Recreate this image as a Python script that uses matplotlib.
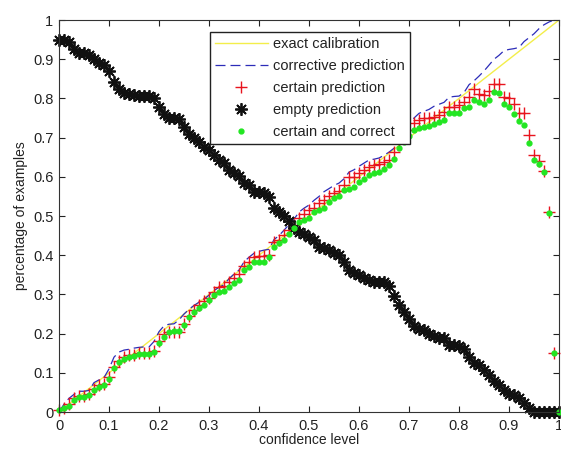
import numpy as np
from matplotlib import pyplot as plt, ticker

# preferred settings for plotting (MATLAB-ish look)
plt.rcParams.update({'font.family': ['Liberation Sans', 'DejaVu Sans'],
                     'font.size': 10,
                     'text.color': '#222222',
                     'axes.labelcolor': '#222222',
                     'xtick.color': '#222222',
                     'ytick.color': '#222222',
                     'axes.edgecolor': '#333333'})

# %% data, one value per confidence step of 0.01
conf_level = [round(0.01 * i, 2) for i in range(101)]

exact_calibration = conf_level

corrective_prediction = [
    0.0, 0.02, 0.035, 0.045, 0.053, 0.053, 0.055, 0.075, 0.082, 0.088,
    0.11, 0.14, 0.153, 0.158, 0.16, 0.163, 0.165, 0.166, 0.166, 0.18,
    0.205, 0.22, 0.224, 0.225, 0.235, 0.25, 0.262, 0.272, 0.28, 0.288,
    0.298, 0.31, 0.318, 0.325, 0.34, 0.352, 0.362, 0.383, 0.395, 0.405,
    0.41, 0.413, 0.415, 0.44, 0.45, 0.464, 0.478, 0.492, 0.51, 0.52,
    0.528, 0.54, 0.55, 0.562, 0.57, 0.578, 0.584, 0.595, 0.612, 0.618,
    0.627, 0.635, 0.643, 0.645, 0.648, 0.655, 0.663, 0.673, 0.70, 0.72,
    0.735, 0.75, 0.762, 0.767, 0.772, 0.78, 0.785, 0.79, 0.803, 0.805,
    0.806, 0.815, 0.835, 0.845, 0.857, 0.87, 0.885, 0.90, 0.91, 0.922,
    0.925, 0.927, 0.93, 0.945, 0.955, 0.965, 0.978, 0.988, 0.995, 1.0,
    1.0]

certain_prediction = [
    0.005, 0.01, 0.02, 0.035, 0.04, 0.04, 0.045, 0.06, 0.07, 0.072,
    0.09, 0.115, 0.13, 0.14, 0.145, 0.145, 0.15, 0.15, 0.15, 0.155,
    0.18, 0.20, 0.205, 0.205, 0.205, 0.225, 0.245, 0.26, 0.272, 0.282,
    0.29, 0.305, 0.318, 0.322, 0.332, 0.342, 0.352, 0.372, 0.383, 0.395,
    0.398, 0.398, 0.40, 0.435, 0.44, 0.452, 0.465, 0.477, 0.495, 0.505,
    0.515, 0.52, 0.533, 0.54, 0.55, 0.558, 0.563, 0.578, 0.60, 0.60,
    0.61, 0.617, 0.625, 0.63, 0.633, 0.638, 0.643, 0.663, 0.69, 0.712,
    0.72, 0.737, 0.745, 0.75, 0.75, 0.753, 0.758, 0.765, 0.778, 0.778,
    0.783, 0.791, 0.803, 0.824, 0.812, 0.809, 0.818, 0.836, 0.836, 0.804,
    0.80, 0.785, 0.762, 0.762, 0.706, 0.656, 0.64, 0.615, 0.51, 0.15,
    0.0]

empty_prediction = [
    0.95, 0.95, 0.945, 0.925, 0.915, 0.915, 0.91, 0.90, 0.89, 0.885,
    0.87, 0.842, 0.825, 0.815, 0.812, 0.81, 0.807, 0.807, 0.807, 0.80,
    0.778, 0.76, 0.75, 0.75, 0.748, 0.728, 0.708, 0.698, 0.688, 0.675,
    0.668, 0.655, 0.642, 0.635, 0.617, 0.61, 0.602, 0.584, 0.578, 0.562,
    0.561, 0.558, 0.548, 0.52, 0.51, 0.50, 0.487, 0.47, 0.46, 0.455,
    0.446, 0.44, 0.42, 0.418, 0.413, 0.405, 0.40, 0.383, 0.362, 0.355,
    0.35, 0.342, 0.337, 0.332, 0.332, 0.332, 0.322, 0.295, 0.273, 0.255,
    0.238, 0.22, 0.212, 0.208, 0.20, 0.195, 0.19, 0.19, 0.172, 0.171,
    0.168, 0.16, 0.14, 0.125, 0.12, 0.108, 0.095, 0.08, 0.07, 0.055,
    0.045, 0.043, 0.035, 0.022, 0.01, 0.0, 0.0, 0.0, 0.0, 0.0,
    0.0]

certain_and_correct = [
    0.005, 0.01, 0.015, 0.03, 0.038, 0.038, 0.043, 0.056, 0.064, 0.069,
    0.084, 0.112, 0.128, 0.135, 0.14, 0.143, 0.148, 0.148, 0.148, 0.153,
    0.176, 0.191, 0.205, 0.207, 0.207, 0.222, 0.242, 0.255, 0.265, 0.273,
    0.285, 0.298, 0.306, 0.31, 0.32, 0.329, 0.337, 0.362, 0.37, 0.383,
    0.383, 0.383, 0.395, 0.421, 0.43, 0.439, 0.455, 0.47, 0.485, 0.49,
    0.495, 0.51, 0.515, 0.52, 0.536, 0.546, 0.55, 0.566, 0.57, 0.574,
    0.587, 0.595, 0.605, 0.61, 0.612, 0.62, 0.63, 0.645, 0.673, 0.69,
    0.705, 0.72, 0.725, 0.728, 0.73, 0.735, 0.74, 0.745, 0.763, 0.763,
    0.763, 0.775, 0.778, 0.796, 0.79, 0.786, 0.796, 0.816, 0.814, 0.786,
    0.778, 0.76, 0.742, 0.732, 0.686, 0.643, 0.632, 0.612, 0.508, 0.15,
    0.0]

tick_values = [round(0.1 * i, 1) for i in range(11)]

# %% plot
fig = plt.figure(figsize=(5.61, 4.5), dpi=100)
ax = fig.add_axes([0.1052, 0.0844, 0.8913, 0.8711])

ax.plot(conf_level, exact_calibration, color='#f3ee4a', lw=1.0,
        label='exact calibration')
ax.plot(conf_level, corrective_prediction, color='#2c2cb8', lw=0.9,
        dashes=(8, 4), label='corrective prediction')
ax.plot(conf_level, certain_prediction, linestyle='none', marker='+',
        ms=8, mew=1.0, color='#e8141e', clip_on=False,
        label='certain prediction')
ax.plot(conf_level, empty_prediction, linestyle='none', marker=(8, 2, 0),
        ms=9, mew=1.3, color='#111111', clip_on=False,
        label='empty prediction')
ax.plot(conf_level, certain_and_correct, linestyle='none', marker='.',
        ms=7, color='#22e622', clip_on=False,
        label='certain and correct')

ax.set_xlim(0, 1)
ax.set_ylim(0, 1)
ax.set_xticks(tick_values)
ax.set_yticks(tick_values)
ax.xaxis.set_major_formatter(ticker.FormatStrFormatter('%g'))
ax.yaxis.set_major_formatter(ticker.FormatStrFormatter('%g'))
ax.tick_params(direction='in', top=True, right=True, length=4, width=0.8,
               labelsize=10.5)
ax.tick_params(axis='x', pad=5)
ax.tick_params(axis='y', pad=4)
ax.set_xlabel('confidence level', fontsize=10, labelpad=0)
ax.set_ylabel('percentage of examples', fontsize=10, labelpad=4)

leg = ax.legend(loc='upper left', bbox_to_anchor=(0.302, 0.969),
                borderaxespad=0, fancybox=False, framealpha=1,
                edgecolor='#222222', numpoints=1, handlelength=3.6,
                handletextpad=0.4, borderpad=0.35, labelspacing=0.55,
                fontsize=10.5)
leg.get_frame().set_linewidth(1.0)

fig.savefig('out.png', dpi=100)
